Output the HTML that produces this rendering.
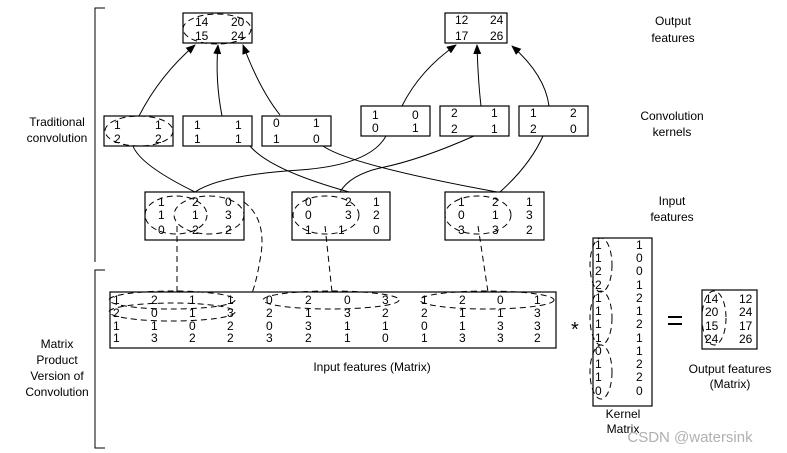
<!DOCTYPE html>
<html><head><meta charset="utf-8"><style>
body{margin:0;background:#fff;}
svg{display:block;font-family:"Liberation Sans",Arial,sans-serif;}
text{font-size:12px;fill:#000;}
.b{fill:#fff;stroke:#000;stroke-width:1.2;}
.l{fill:none;stroke:#000;stroke-width:1;}
.d{fill:none;stroke:#000;stroke-width:1;stroke-dasharray:6,4;}
</style></head><body>
<svg width="787" height="453" viewBox="0 0 787 453">
<defs><marker id="a" markerWidth="10" markerHeight="10" refX="9" refY="4" orient="auto" markerUnits="userSpaceOnUse"><path d="M0,0 L10,4 L0,8 z" fill="#000"/></marker></defs>
<path class="l" d="M105,8 H95 V262"/>
<path class="l" d="M105,270 H95 V448 H105"/>
<text x="57" y="126" text-anchor="middle">Traditional</text>
<text x="57" y="142" text-anchor="middle">convolution</text>
<text x="57" y="348" text-anchor="middle">Matrix</text>
<text x="57" y="364" text-anchor="middle">Product</text>
<text x="57" y="380" text-anchor="middle">Version of</text>
<text x="57" y="396" text-anchor="middle">Convolution</text>
<rect class="b" x="183" y="13" width="69" height="30"/>
<text x="195" y="26">14</text><text x="231" y="26">20</text><text x="195" y="40">15</text><text x="231" y="40">24</text>
<ellipse class="d" cx="217" cy="29" rx="34" ry="15"/>
<rect class="b" x="445" y="13" width="62" height="30"/>
<text x="455" y="24">12</text><text x="490" y="24">24</text><text x="455" y="40">17</text><text x="490" y="40">26</text>
<text x="673" y="25" text-anchor="middle">Output</text><text x="673" y="42" text-anchor="middle">features</text>
<text x="672" y="120" text-anchor="middle">Convolution</text><text x="672" y="136" text-anchor="middle">kernels</text>
<text x="672" y="205" text-anchor="middle">Input</text><text x="672" y="221" text-anchor="middle">features</text>
<rect class="b" x="104" y="116" width="69" height="30"/>
<text x="114" y="129">1</text><text x="155" y="129">1</text><text x="114" y="143">2</text><text x="155" y="143">2</text>
<ellipse class="d" cx="139" cy="131" rx="34" ry="15"/>
<rect class="b" x="183" y="116" width="69" height="30"/>
<text x="194" y="129">1</text><text x="235" y="129">1</text><text x="194" y="143">1</text><text x="235" y="143">1</text>
<rect class="b" x="262" y="116" width="69" height="30"/>
<text x="273" y="127">0</text><text x="313" y="127">1</text><text x="273" y="143">1</text><text x="313" y="143">0</text>
<rect class="b" x="361" y="106" width="69" height="30"/>
<text x="372" y="119">1</text><text x="412" y="119">0</text><text x="372" y="132">0</text><text x="412" y="132">1</text>
<rect class="b" x="440" y="106" width="69" height="30"/>
<text x="451" y="117">2</text><text x="491" y="117">1</text><text x="451" y="133">2</text><text x="491" y="133">1</text>
<rect class="b" x="519" y="106" width="69" height="30"/>
<text x="530" y="117">1</text><text x="570" y="117">2</text><text x="530" y="133">2</text><text x="570" y="133">0</text>
<path class="l" marker-end="url(#a)" d="M139,116 Q160,75 195,45"/>
<path class="l" marker-end="url(#a)" d="M222,116 Q215,80 218,45"/>
<path class="l" marker-end="url(#a)" d="M280,115 Q260,90 243,45"/>
<path class="l" marker-end="url(#a)" d="M402,106 Q420,70 456,45"/>
<path class="l" marker-end="url(#a)" d="M481,106 Q478,80 477,45"/>
<path class="l" marker-end="url(#a)" d="M549,106 Q545,75 512,46"/>
<path class="l" d="M133,146 Q140,165 195,192"/>
<path class="l" d="M250,146 Q270,170 349,192"/>
<path class="l" d="M323,146 Q350,165 497,192"/>
<path class="l" d="M386,136 Q370,165 300,170 Q220,175 195,192"/>
<path class="l" d="M474,136 Q420,160 380,168 Q350,175 340,192"/>
<path class="l" d="M543,136 Q530,165 500,192"/>
<rect class="b" x="145" y="192" width="99" height="48"/>
<text x="158" y="206">1</text><text x="192" y="206">2</text><text x="225" y="206">0</text>
<text x="158" y="219">1</text><text x="192" y="219">1</text><text x="225" y="219">3</text>
<text x="158" y="234">0</text><text x="192" y="234">2</text><text x="225" y="234">2</text>
<ellipse class="d" cx="176" cy="215" rx="31" ry="19"/>
<ellipse class="d" cx="209" cy="215" rx="35" ry="19"/>
<rect class="b" x="292" y="192" width="98" height="48"/>
<text x="305" y="206">0</text><text x="345" y="206">2</text><text x="373" y="206">1</text>
<text x="305" y="219">0</text><text x="345" y="219">3</text><text x="373" y="219">2</text>
<text x="305" y="234">1</text><text x="338" y="234">1</text><text x="373" y="234">0</text>
<ellipse class="d" cx="326" cy="215" rx="33" ry="19"/>
<rect class="b" x="445" y="192" width="99" height="48"/>
<text x="458" y="206">1</text><text x="492" y="206">2</text><text x="526" y="206">1</text>
<text x="458" y="219">0</text><text x="492" y="219">1</text><text x="526" y="219">3</text>
<text x="458" y="234">3</text><text x="492" y="234">3</text><text x="526" y="234">2</text>
<ellipse class="d" cx="478" cy="215" rx="33" ry="19"/>
<path class="d" d="M177,226 V292"/>
<path class="d" d="M244,202 Q268,220 260,260 Q255,290 248,302"/>
<path class="d" d="M325,226 L332,292"/>
<path class="d" d="M478,226 L488,292"/>
<rect class="b" x="110" y="292" width="446" height="56"/>
<g>
<text x="113" y="304">1</text><text x="151" y="304">2</text><text x="189" y="304">1</text><text x="227" y="304">1</text><text x="266" y="304">0</text><text x="305" y="304">2</text><text x="344" y="304">0</text><text x="382" y="304">3</text><text x="421" y="304">1</text><text x="459" y="304">2</text><text x="497" y="304">0</text><text x="534" y="304">1</text>
<text x="113" y="317">2</text><text x="151" y="317">0</text><text x="189" y="317">1</text><text x="227" y="317">3</text><text x="266" y="317">2</text><text x="305" y="317">1</text><text x="344" y="317">3</text><text x="382" y="317">2</text><text x="421" y="317">2</text><text x="459" y="317">1</text><text x="497" y="317">1</text><text x="534" y="317">3</text>
<text x="113" y="330">1</text><text x="151" y="330">1</text><text x="189" y="330">0</text><text x="227" y="330">2</text><text x="266" y="330">0</text><text x="305" y="330">3</text><text x="344" y="330">1</text><text x="382" y="330">1</text><text x="421" y="330">0</text><text x="459" y="330">1</text><text x="497" y="330">3</text><text x="534" y="330">3</text>
<text x="113" y="342">1</text><text x="151" y="342">3</text><text x="189" y="342">2</text><text x="227" y="342">2</text><text x="266" y="342">3</text><text x="305" y="342">2</text><text x="344" y="342">1</text><text x="382" y="342">0</text><text x="421" y="342">1</text><text x="459" y="342">3</text><text x="497" y="342">3</text><text x="534" y="342">2</text>
</g>
<ellipse class="d" cx="172" cy="300" rx="63" ry="9"/>
<ellipse class="d" cx="172" cy="312" rx="63" ry="9"/>
<ellipse class="d" cx="331" cy="300" rx="68" ry="9"/>
<ellipse class="d" cx="487" cy="300" rx="67" ry="9"/>
<text x="372" y="371" text-anchor="middle">Input features (Matrix)</text>
<text x="571" y="336" style="font-size:20px">*</text>
<!-- kernel matrix -->
<rect class="b" x="593" y="238" width="59" height="168"/>
<g>
<text x="595" y="249">1</text><text x="636" y="249">1</text>
<text x="595" y="262">1</text><text x="636" y="262">0</text>
<text x="595" y="275">2</text><text x="636" y="275">0</text>
<text x="595" y="289">2</text><text x="636" y="289">1</text>
<text x="595" y="302">1</text><text x="636" y="302">2</text>
<text x="595" y="315">1</text><text x="636" y="315">1</text>
<text x="595" y="328">1</text><text x="636" y="328">2</text>
<text x="595" y="342">1</text><text x="636" y="342">1</text>
<text x="595" y="355">0</text><text x="636" y="355">1</text>
<text x="595" y="368">1</text><text x="636" y="368">2</text>
<text x="595" y="381">1</text><text x="636" y="381">2</text>
<text x="595" y="395">0</text><text x="636" y="395">0</text>
</g>
<ellipse class="d" cx="601" cy="265" rx="11" ry="27"/>
<ellipse class="d" cx="601" cy="318" rx="11" ry="27"/>
<ellipse class="d" cx="601" cy="372" rx="11" ry="27"/>
<text x="623" y="418" text-anchor="middle">Kernel</text>
<text x="623" y="433" text-anchor="middle">Matrix</text>
<rect x="668" y="316" width="14" height="2" fill="#000"/>
<rect x="668" y="323" width="14" height="2" fill="#000"/>
<rect class="b" x="702" y="290" width="55" height="59"/>
<text x="705" y="303">14</text><text x="739" y="303">12</text>
<text x="705" y="316">20</text><text x="739" y="316">24</text>
<text x="705" y="330">15</text><text x="739" y="330">17</text>
<text x="705" y="343">24</text><text x="739" y="343">26</text>
<ellipse class="d" cx="714" cy="318" rx="12" ry="27"/>
<text x="730" y="373" text-anchor="middle">Output features</text>
<text x="730" y="388" text-anchor="middle">(Matrix)</text>
<text x="690" y="442" text-anchor="middle" style="font-size:15px;fill:#b0b0b0">CSDN @watersink</text>
</svg>
</body></html>
